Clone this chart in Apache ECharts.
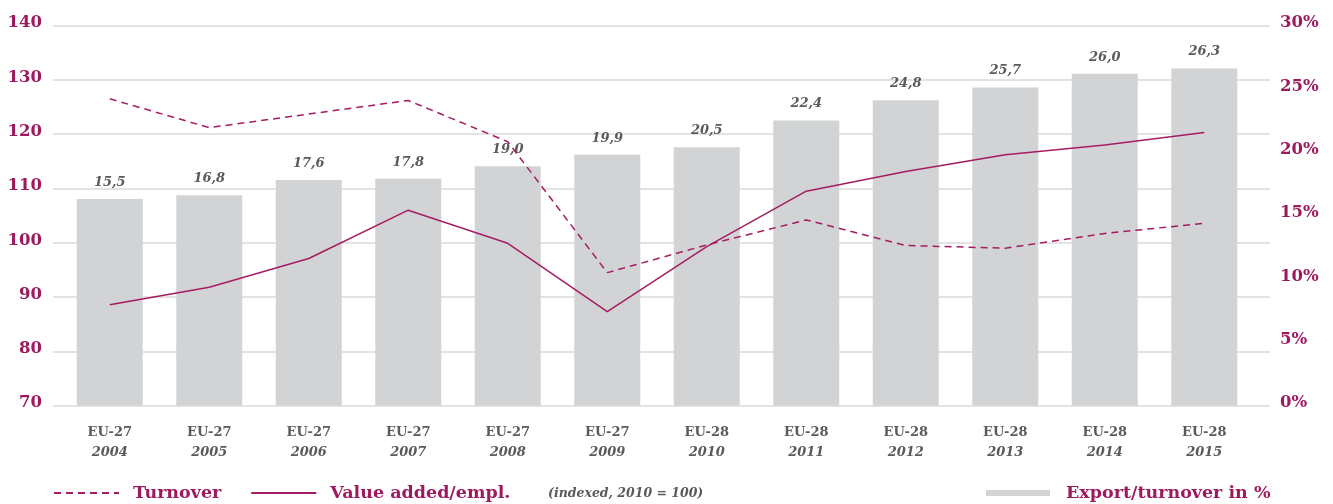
<!DOCTYPE html>
<html>
<head>
<meta charset="utf-8">
<script src="https://cdn.jsdelivr.net/npm/echarts@6/dist/echarts.min.js"></script>
<style>
html,body{margin:0;padding:0;background:#fff;}
#chart{width:1333px;height:504px;}
</style>
</head>
<body>
<div id="chart"></div>
<script>
// ---- data ----
const regions = ['EU-27','EU-27','EU-27','EU-27','EU-27','EU-27','EU-28','EU-28','EU-28','EU-28','EU-28','EU-28'];
const years = ['2004','2005','2006','2007','2008','2009','2010','2011','2012','2013','2014','2015'];
const exportShare = [16.3, 16.6, 17.8, 17.9, 18.9, 19.8, 20.4, 22.5, 24.1, 25.1, 26.2, 26.6];
const exportLabels = ['15,5','16,8','17,6','17,8','19,0','19,9','20,5','22,4','24,8','25,7','26,0','26,3'];
const turnover = [126.5, 121.2, 123.7, 126.2, 118.6, 94.5, 99.6, 104.2, 99.5, 99.0, 101.7, 103.6];
const valueAdded = [88.6, 91.8, 97.1, 106.0, 99.9, 87.3, 99.3, 109.5, 113.1, 116.2, 118.0, 120.3];
const leftTicks = {min: 70, max: 140, interval: 10};
const rightTicks = {min: 0, max: 30, interval: 5};

const MAG = '#9e1a5e';
const LINE = '#a61c64';
const GREY = '#5a5a5a';
const BAR = '#d1d3d4';
const FONT = 'DejaVu Serif';

const categories = years.map((y, i) => regions[i] + '\n' + y);

const chart = echarts.init(document.getElementById('chart'), null, {renderer: 'canvas'});
chart.setOption({
  animation: false,
  backgroundColor: '#fff',
  grid: [
    {left: 53, right: 63, top: 25.5, bottom: 98.3, containLabel: false},
    {left: 60, right: 79, top: 25.5, bottom: 98.3, containLabel: false}
  ],
  xAxis: [
    {type: 'value', gridIndex: 0, min: 0, max: 1, show: false},
    {
      type: 'category', gridIndex: 1, data: categories, boundaryGap: true,
      axisLine: {show: false}, axisTick: {show: false},
      axisLabel: {
        margin: 17, interval: 0,
        formatter: function (v) { const p = v.split('\n'); return '{a|' + p[0] + '}\n{b|' + p[1] + '}'; },
        rich: {
          a: {fontFamily: FONT, fontWeight: 'bold', fontSize: 13, color: GREY, lineHeight: 20},
          b: {fontFamily: FONT, fontWeight: 'bold', fontStyle: 'italic', fontSize: 13, color: GREY, lineHeight: 20}
        }
      }
    }
  ],
  yAxis: [
    {
      type: 'value', gridIndex: 0, position: 'left', min: leftTicks.min, max: leftTicks.max, interval: leftTicks.interval,
      axisLine: {show: false}, axisTick: {show: false},
      axisLabel: {margin: 11, color: MAG, fontFamily: FONT, fontWeight: 'bold', fontSize: 16.5, verticalAlign: 'bottom', lineHeight: 5},
      splitLine: {show: true, lineStyle: {color: '#dadada', width: 1.5}}
    },
    {
      type: 'value', gridIndex: 0, position: 'right', min: rightTicks.min, max: rightTicks.max, interval: rightTicks.interval,
      axisLine: {show: false}, axisTick: {show: false},
      axisLabel: {margin: 10, color: MAG, fontFamily: FONT, fontWeight: 'bold', fontSize: 16.5, formatter: '{value}%', verticalAlign: 'bottom', lineHeight: 5},
      splitLine: {show: false}
    },
    {type: 'value', gridIndex: 1, min: leftTicks.min, max: leftTicks.max, interval: leftTicks.interval, show: false, splitLine: {show: false}},
    {type: 'value', gridIndex: 1, min: rightTicks.min, max: rightTicks.max, interval: rightTicks.interval, show: false, splitLine: {show: false}}
  ],
  legend: [
    {
      data: ['Turnover', 'Value added/empl.'],
      left: 48, top: 479, itemWidth: 65, itemHeight: 14, itemGap: 29,
      itemStyle: {opacity: 0},
      textStyle: {color: MAG, fontFamily: FONT, fontWeight: 'bold', fontSize: 17.5, padding: [0, 0, 0, 9]}
    },
    {
      data: [{name: 'Export/turnover in %', icon: 'rect'}],
      left: 981, top: 479, itemWidth: 64, itemHeight: 6,
      textStyle: {color: MAG, fontFamily: FONT, fontWeight: 'bold', fontSize: 17.5, padding: [0, 0, 0, 11]}
    }
  ],
  graphic: [
    {
      type: 'text', left: 548, top: 487,
      style: {text: '(indexed, 2010 = 100)', fill: GREY, font: 'italic bold 12.5px "DejaVu Serif"'}
    }
  ],
  series: [
    {
      name: 'Export/turnover in %', type: 'bar', xAxisIndex: 1, yAxisIndex: 3,
      data: exportShare, barWidth: 66, itemStyle: {color: BAR}, z: 1,
      label: {
        show: true, position: 'top', distance: 10,
        formatter: function (p) { return exportLabels[p.dataIndex]; },
        color: GREY, fontFamily: FONT, fontWeight: 'bold', fontStyle: 'italic', fontSize: 13
      }
    },
    {
      name: 'Turnover', type: 'line', xAxisIndex: 1, yAxisIndex: 2,
      data: turnover, symbol: 'none', z: 3,
      lineStyle: {color: LINE, width: 1.5, type: [7, 5]}, itemStyle: {color: LINE}
    },
    {
      name: 'Value added/empl.', type: 'line', xAxisIndex: 1, yAxisIndex: 2,
      data: valueAdded, symbol: 'none', z: 3,
      lineStyle: {color: LINE, width: 1.5, type: 'solid'}, itemStyle: {color: LINE}
    }
  ]
});
</script>
</body>
</html>
